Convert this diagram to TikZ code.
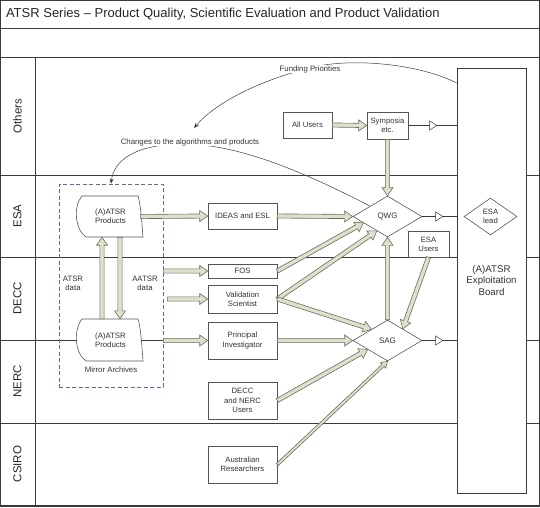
\documentclass[tikz,border=0pt]{standalone}
\usepackage{fontspec}
\setmainfont{Liberation Sans}
\usetikzlibrary{shapes.geometric,calc,arrows.meta}
\definecolor{fatfill}{HTML}{DDE1CB}
\definecolor{fatline}{HTML}{6A6D5E}
\definecolor{lanec}{HTML}{3A3A3A}
\definecolor{boxc}{HTML}{555555}
\definecolor{txt}{HTML}{333333}
\definecolor{dashc}{HTML}{5A6E9E}
\def\fw{2.1pt}\def\fH{5.5pt}\def\fh{8pt}
\newcommand\fatarr[2]{%
 \filldraw[fill=fatfill,draw=fatline,line width=0.6pt,line join=miter] let \p1=#1, \p2=#2, \n1={atan2(\y2-\y1,\x2-\x1)}, \n2={veclen(\x2-\x1,\y2-\y1)} in
  ($(\p1)+(\n1+90:\fw)$) -- ($(\p1)+(\n1:\n2-\fh)+(\n1+90:\fw)$) -- ($(\p1)+(\n1:\n2-\fh)+(\n1+90:\fH)$) -- (\p2) -- ($(\p1)+(\n1:\n2-\fh)+(\n1-90:\fH)$) -- ($(\p1)+(\n1:\n2-\fh)+(\n1-90:\fw)$) -- ($(\p1)+(\n1-90:\fw)$) -- cycle;}
\tikzset{
 box/.style={draw=boxc, fill=white, line width=0.6pt, inner sep=1pt, align=center, font=\fontsize{7.7}{9.2}\selectfont, text=txt, minimum width=69pt},
 dia/.style={diamond, draw=boxc, fill=white, inner sep=0pt, line width=0.6pt, font=\fontsize{8}{9.5}\selectfont, text=txt, align=center},
 thinln/.style={draw=lanec, line width=0.5pt},
 lbl/.style={font=\fontsize{7.8}{9.2}\selectfont, text=txt, align=center},
 lanelbl/.style={rotate=90, font=\fontsize{11.5}{13}\selectfont, text=black!85},
 lane/.style={draw=lanec, line width=0.7pt},
 opentri/.style={-{Triangle[open,length=8pt,width=10pt,fill=white]}},
 tip/.style={-{Stealth[length=5pt,width=4pt]}},
 prodshape/.style={draw=boxc, fill=white, line width=0.6pt}
}
\begin{document}
\begin{tikzpicture}[x=1pt,y=-1pt]
\useasboundingbox (0,0) rectangle (540,507);
% frame and lanes
\draw[lane] (0,28) -- (540,28);
\draw[lane] (0,57) -- (540,57);
\draw[lane] (0,175) -- (540,175);
\draw[lane] (0,257) -- (540,257);
\draw[lane] (0,340) -- (540,340);
\draw[lane] (0,423) -- (540,423);
\draw[lane] (35,57) -- (35,506);
\draw[draw=lanec, line width=1.3pt] (0.7,0.7) rectangle (539.3,506);
\node[anchor=west, font=\fontsize{13}{15}\selectfont, text=black!85] (title) at (2.5,14.5) {ATSR Series – Product Quality, Scientific Evaluation and Product Validation};
\node[lanelbl] (lothers) at (17.5,116) {Others};
\node[lanelbl] (lesa) at (17.5,216) {ESA};
\node[lanelbl] (ldecc) at (17.5,298.5) {DECC};
\node[lanelbl] (lnerc) at (17.5,381.5) {NERC};
\node[lanelbl] (lcsiro) at (17.5,464) {CSIRO};
% board
\node[draw=lanec, fill=white, line width=0.7pt, minimum width=69pt, minimum height=425pt, font=\fontsize{9.7}{11.6}\selectfont, text=txt, align=center] (board) at (491.5,280.5) {(A)ATSR\\Exploitation\\Board};
\node[dia, minimum width=53pt, minimum height=37pt, font=\fontsize{7.7}{9.2}\selectfont] (esalead) at (490.5,216.5) {ESA\\lead};
% mirror archives
\node[draw=dashc, dash pattern=on 4pt off 2.5pt, line width=0.7pt, minimum width=104pt, minimum height=203pt] (mirror) at (111,285.5) {};
\draw[prodshape] (82,196) -- (138,196) .. controls (141,205) and (142,226) .. (143,237) -- (86,237) .. controls (75,230) and (73,206) .. (82,196) -- cycle;
\node[lbl, minimum width=60pt, minimum height=41pt] (prodtop) at (110.5,216.5) {(A)ATSR\\Products};
\draw[prodshape] (82,319) -- (138,319) .. controls (141,328) and (142,349) .. (143,361) -- (86,361) .. controls (75,354) and (73,330) .. (82,319) -- cycle;
\node[lbl, minimum width=60pt, minimum height=42pt] (prodbot) at (110.5,340) {(A)ATSR\\Products};
\node[lbl] (mirrorlbl) at (111,369.5) {Mirror Archives};
\node[lbl] (atsrdata) at (73,283) {ATSR\\data};
\node[lbl] (aatsrdata) at (145,283) {AATSR\\data};
% boxes
\node[box, minimum width=49pt, minimum height=26pt] (allusers) at (307.5,125) {All Users};
\node[box, minimum width=41pt, minimum height=27pt] (sym) at (387.5,125.5) {Symposia\\etc.};
\node[box, minimum width=41pt, minimum height=26pt] (esausers) at (428.5,244) {ESA\\Users};
\node[box, minimum height=26pt] (ideas) at (242.5,216) {IDEAS and ESL};
\node[box, minimum height=14pt] (fos) at (242.5,271) {FOS};
\node[box, minimum height=28pt] (valsci) at (242.5,299) {Validation\\Scientist};
\node[box, minimum height=37pt] (pi) at (242.5,340.5) {Principal\\Investigator};
\node[box, minimum height=37pt] (deccnerc) at (242.5,400.5) {DECC\\and NERC\\Users};
\node[box, minimum height=37pt] (aus) at (242.5,464.5) {Australian\\Researchers};
\node[dia, minimum width=69pt, minimum height=41pt] (qwg) at (387.5,216.5) {QWG};
\node[dia, minimum width=69pt, minimum height=41pt] (sag) at (387.5,340.5) {SAG};
% thin curved connectors with labels
\coordinate (fstart) at (board.west |- 0,83);
\coordinate (fend) at (194,128);
\draw[thinln, tip] (fstart) .. controls (415,62) and (345,58) .. (310,68) .. controls (265,79) and (218,100) .. (fend);
\node[lbl, fill=white, inner sep=0.5pt] (fund) at (310,69) {Funding Priorities};
\coordinate (qwgpt) at ($(qwg.west)!0.5!(qwg.north)$);
\draw[thinln, tip] (qwgpt) .. controls (300,170) and (235,143) .. (180,144) .. controls (135,145) and (114,160) .. (mirror.north);
\node[lbl, fill=white, inner sep=0.5pt] (chg) at (190,142) {Changes to the algorithms and products};
% open triangle connectors to board
\draw[thinln] (sym.east) -- (board.west |- sym.east);
\draw[thinln, opentri] (sym.east) -- ($(sym.east)+(29,0)$);
\draw[thinln] (qwg.east) -- (board.west |- qwg.east);
\draw[thinln, opentri] (qwg.east) -- ($(qwg.east)+(21,0)$);
\draw[thinln] (sag.east) -- (board.west |- sag.east);
\draw[thinln, opentri] (sag.east) -- ($(sag.east)+(21,0)$);
% fat arrows
\fatarr{(allusers.east)}{(sym.west)}
\fatarr{(sym.south)}{(qwg.north)}
\fatarr{(prodtop.east)}{(ideas.west)}
\fatarr{(ideas.east)}{(qwg.west)}
\fatarr{(mirror.east |- fos.west)}{(fos.west)}
\fatarr{($(mirror.east |- valsci.west)+(4,0)$)}{(valsci.west)}
\fatarr{(mirror.east |- pi.west)}{(pi.west)}
\fatarr{(fos.east)}{($(qwg.west)!0.31!(qwg.south)$)}
\fatarr{(valsci.east)}{($(qwg.west)!0.69!(qwg.south)$)}
\fatarr{(valsci.east)}{($(sag.west)!0.54!(sag.north)$)}
\fatarr{(pi.east)}{(sag.west)}
\fatarr{(deccnerc.east)}{($(sag.west)!0.43!(sag.south)$)}
\fatarr{(esausers.south)}{($(sag.north)!0.44!(sag.east)$)}
\fatarr{(sag.north)}{(qwg.south)}
\fatarr{($(prodbot.north)+(-8.5,0)$)}{($(prodtop.south)+(-8.5,0)$)}
\fatarr{($(prodtop.south)+(9.5,0)$)}{($(prodbot.north)+(9.5,0)$)}
{\def\fw{1.4pt}\def\fH{3.8pt}\def\fh{6pt}\fatarr{(aus.east)}{(sag.south)}}
\end{tikzpicture}
\end{document}
